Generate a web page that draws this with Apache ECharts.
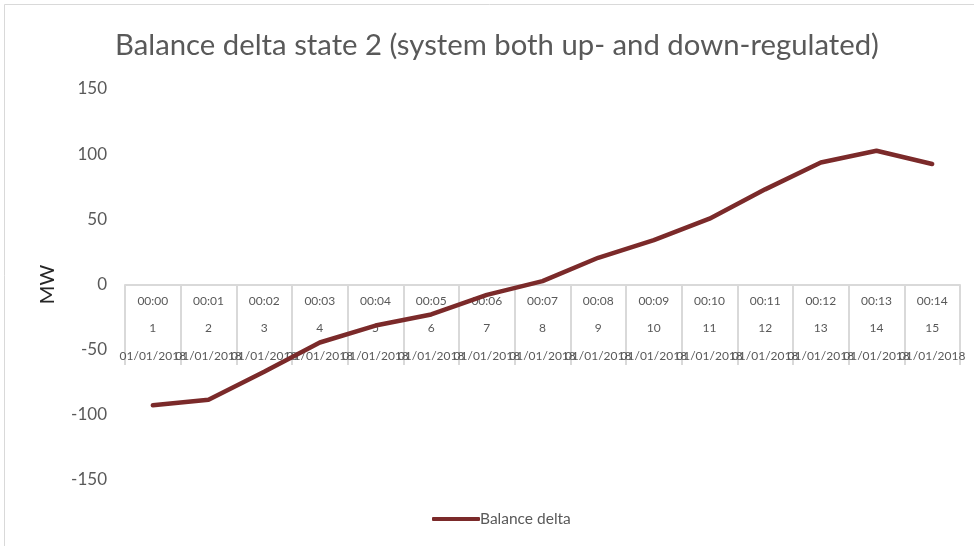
<!DOCTYPE html>
<html>
<head>
<meta charset="utf-8">
<script src="https://cdn.jsdelivr.net/npm/echarts@6/dist/echarts.min.js"></script>
<style>
html,body{margin:0;padding:0;background:#fff;}
#c{width:974px;height:546px;}
</style>
</head>
<body>
<div id="c"></div>
<script>
const times = ['00:00','00:01','00:02','00:03','00:04','00:05','00:06','00:07','00:08','00:09','00:10','00:11','00:12','00:13','00:14'];
const periods = ['1','2','3','4','5','6','7','8','9','10','11','12','13','14','15'];
const dates = ['01/01/2018','01/01/2018','01/01/2018','01/01/2018','01/01/2018','01/01/2018','01/01/2018','01/01/2018','01/01/2018','01/01/2018','01/01/2018','01/01/2018','01/01/2018','01/01/2018','01/01/2018'];
const balanceDelta = [-92.6, -88.5, -67, -44.5, -31.5, -23, -8, 2.6, 20.5, 34, 50.5, 73, 93.6, 102.6, 92.5];
const yTicks = {min: -150, max: 150, interval: 50};

const categories = times.map((t, i) => t + '\n' + periods[i] + '\n' + dates[i]);

const chart = echarts.init(document.getElementById('c'));
chart.setOption({
  animation: false,
  title: {
    text: 'Balance delta state 2 (system both up- and down-regulated)',
    left: 110,
    top: 26,
    textStyle: {fontFamily: 'Lato', fontSize: 29.3, fontWeight: 'normal', color: '#595959'}
  },
  graphic: [{
    type: 'rect',
    shape: {x: 4.5, y: 4.5, width: 1000, height: 600},
    style: {fill: 'none', stroke: '#d9d9d9', lineWidth: 1},
    silent: true
  }],
  legend: {
    bottom: 14,
    left: 427,
    itemWidth: 48,
    itemHeight: 4,
    itemGap: 4,
    icon: 'roundRect',
    textStyle: {fontFamily: 'Lato', fontSize: 15.5, color: '#595959', padding: [0,0,0,-5]},
    data: ['Balance delta']
  },
  grid: {left: 125, right: 14, top: 89, bottom: 66, containLabel: false, outerBoundsMode: 'none'},
  xAxis: {
    type: 'category',
    data: categories,
    boundaryGap: true,
    offset: -195,
    axisLine: {onZero: false, lineStyle: {color: '#d9d9d9', width: 2}},
    axisTick: {show: true, length: 80, lineStyle: {color: '#d9d9d9', width: 2}},
    axisLabel: {
      interval: 0,
      margin: 2,
      fontFamily: 'Lato',
      fontSize: 12,
      color: '#595959',
      lineHeight: 27.5
    },
    splitLine: {show: false}
  },
  yAxis: {
    type: 'value',
    min: yTicks.min,
    max: yTicks.max,
    interval: yTicks.interval,
    name: 'MW',
    nameLocation: 'middle',
    nameRotate: 90,
    nameGap: 67,
    nameTextStyle: {fontFamily: 'Lato', fontSize: 20, color: '#262626'},
    axisLine: {show: false},
    axisTick: {show: false},
    splitLine: {show: false},
    axisLabel: {margin: 18, fontFamily: 'Lato', fontSize: 17, color: '#595959'}
  },
  series: [{
    name: 'Balance delta',
    type: 'line',
    data: balanceDelta,
    symbol: 'none',
    lineStyle: {color: '#7b2a2a', width: 4.5, cap: 'round'},
    itemStyle: {color: '#7b2a2a'},
    z: 5
  }]
});
</script>
</body>
</html>
